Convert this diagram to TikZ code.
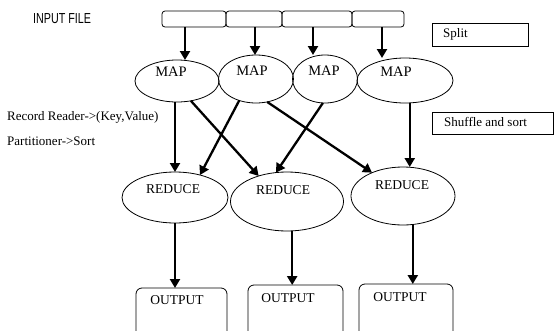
\documentclass[tikz,border=0pt]{standalone}
\usepackage{graphicx}
\usepackage{fontspec}
\setmainfont{Liberation Serif}
\newfontfamily\inputfont{Liberation Sans}
\usetikzlibrary{shapes.geometric,arrows.meta}
\begin{document}
\begin{tikzpicture}[x=1pt,y=-1pt,
  arr/.style={line width=2.3pt,-{Triangle[width=10pt,length=9pt]}},
  oval/.style={draw,ellipse,line width=0.8pt,inner sep=0pt,outer sep=0pt},
  splitbox/.style={draw,rectangle,rounded corners=3pt,line width=0.8pt,minimum height=16pt,inner sep=0pt,outer sep=0pt},
  outbox/.style={draw,rectangle,rounded corners=6pt,line width=0.8pt,inner sep=0pt,outer sep=0pt},
  sqbox/.style={draw,rectangle,line width=0.8pt,inner sep=0pt,outer sep=0pt},
  lbl/.style={font=\fontsize{13}{15}\selectfont,inner sep=0pt},
  big/.style={font=\fontsize{13.5}{15}\selectfont,inner sep=0pt},
  mapt/.style={font=\fontsize{14.5}{16}\selectfont,inner sep=0pt}
]
\useasboundingbox (0,0) rectangle (555,330);
\clip (0,0) rectangle (555,330);

% input file label
\node[anchor=base west,inner sep=0pt] (inp) at (33,23.3)
  {\inputfont\fontsize{14.5}{16}\selectfont\scalebox{0.74}[1]{INPUT FILE}};

% split row
\node[splitbox,minimum width=64pt] (s1) at (194,19) {};
\node[splitbox,minimum width=56pt] (s2) at (254,19) {};
\node[splitbox,minimum width=70pt] (s3) at (317,19) {};
\node[splitbox,minimum width=52pt] (s4) at (378,19) {};

% side boxes
\node[sqbox,minimum width=96pt,minimum height=23pt] (split) at (480,34.5) {};
\node[lbl,anchor=base west] (splittxt) at (443,37) {Split};
\node[sqbox,minimum width=121pt,minimum height=22pt] (shuf) at (492.5,123) {};
\node[lbl,anchor=base west] (shuftxt) at (444,126) {Shuffle and sort};

% left labels
\node[lbl,anchor=base west] (rr) at (7,120) {Record Reader->(Key,Value)};
\node[lbl,anchor=base west] (ps) at (7,145) {Partitioner->Sort};

% map ellipses
\node[oval,minimum width=84pt,minimum height=42pt] (map1) at (177,81) {};
\node[oval,minimum width=75pt,minimum height=48pt] (map2) at (256,79) {};
\node[oval,minimum width=65pt,minimum height=48pt] (map3) at (325,79) {};
\node[oval,minimum width=96pt,minimum height=45pt] (map4) at (405,80.5) {};
\node[mapt] (m1t) at (171,72) {MAP};
\node[mapt] (m2t) at (252,71) {MAP};
\node[mapt] (m3t) at (324,71) {MAP};
\node[mapt] (m4t) at (396,72) {MAP};

% reduce ellipses
\node[oval,minimum width=106pt,minimum height=51pt] (red1) at (175,197.5) {};
\node[oval,minimum width=113pt,minimum height=59pt] (red2) at (287,201.5) {};
\node[oval,minimum width=104pt,minimum height=58pt] (red3) at (403,196) {};
\node[big] (r1t) at (173,189) {REDUCE};
\node[big] (r2t) at (283,190) {REDUCE};
\node[big] (r3t) at (402,185) {REDUCE};

% output boxes
\node[outbox,minimum width=91pt,minimum height=60pt] (out1) at (181.5,318) {};
\node[outbox,minimum width=95pt,minimum height=60pt] (out2) at (295.5,315) {};
\node[outbox,minimum width=94pt,minimum height=60pt] (out3) at (406,314) {};
\node[big] (o1t) at (177,300) {OUTPUT};
\node[big] (o2t) at (288,298) {OUTPUT};
\node[big] (o3t) at (400,297) {OUTPUT};

% split -> map arrows
\coordinate (a1) at ([xshift=-9pt]s1.south);
\coordinate (a2) at ([xshift=1pt]s2.south);
\coordinate (a3) at ([xshift=-4pt]s3.south);
\coordinate (a4) at ([xshift=4pt]s4.south);
\draw[arr] (a1) -- (a1 |- map1.north);
\draw[arr] (a2) -- (a2 |- map2.north);
\draw[arr] (a3) -- (a3 |- map3.north);
\draw[arr] (a4) -- (a4 |- map4.north);

% map -> reduce arrows
\draw[arr] (map1.south -| red1.north) -- (red1.north);
\draw[arr] (map1.-55) -- (red2.138);
\draw[arr] (map2.-128) -- (red1.42);
\draw[arr] (map2.-64) -- (red3.143);
\draw[arr] (map3.-95) -- (red2.111);
\coordinate (b4) at (map4.-78);
\draw[arr] (b4) -- (b4 |- red3.north);

% reduce -> output arrows
\coordinate (c1) at (red1.south);
\coordinate (c2) at (red2.-80);
\coordinate (c3) at (red3.-71);
\draw[arr] (c1) -- (c1 |- out1.north);
\draw[arr] (c2) -- (c2 |- out2.north);
\draw[arr] (c3) -- (c3 |- out3.north);
\end{tikzpicture}
\end{document}
